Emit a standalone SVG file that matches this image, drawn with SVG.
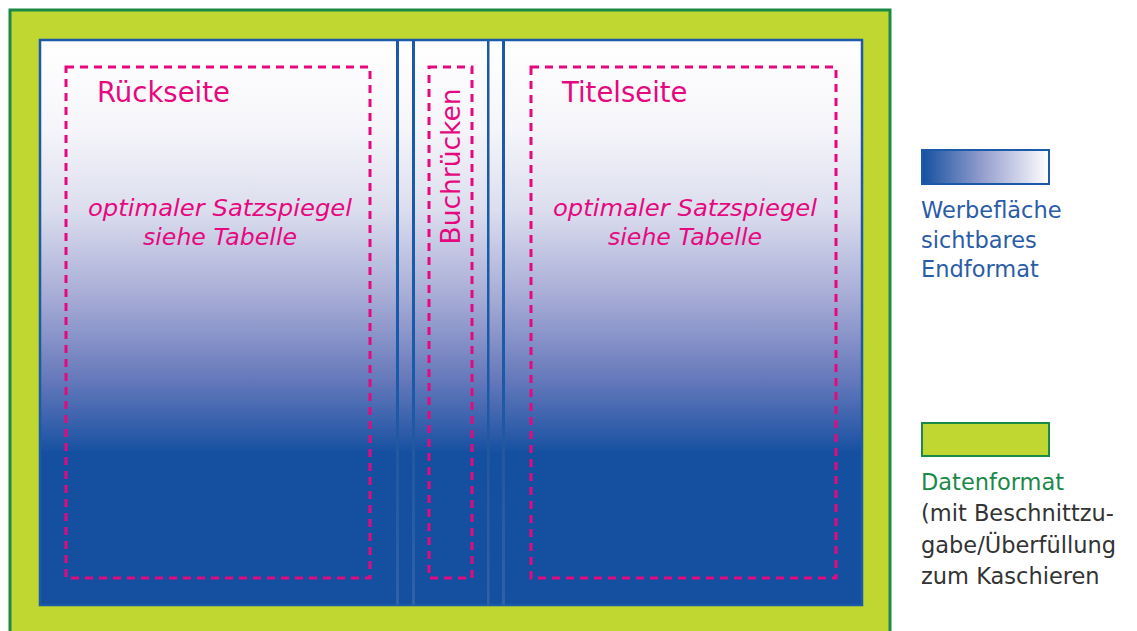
<svg xmlns="http://www.w3.org/2000/svg" width="1137" height="631" viewBox="0 0 1137 631">
<style>
.dash{fill:none;stroke:#e5097f;stroke-width:3;stroke-dasharray:8 6}
.lbl{font-family:"DejaVu Sans","Liberation Sans",sans-serif;fill:#e5097f}
.it{font-family:"DejaVu Sans","Liberation Sans",sans-serif;font-style:italic;font-size:23px;fill:#e5097f;text-anchor:middle}
.leg{font-family:"DejaVu Sans","Liberation Sans",sans-serif;font-size:22.5px}
.spine{fill:url(#spineGrad)}
</style>
<defs>
<linearGradient id="coverGrad" x1="0" y1="0" x2="0" y2="1">
<stop offset="0" stop-color="#ffffff"/>
<stop offset="0.15" stop-color="#f6f6fa"/>
<stop offset="0.3" stop-color="#dcdeee"/>
<stop offset="0.46" stop-color="#a5aad5"/>
<stop offset="0.6" stop-color="#6679bb"/>
<stop offset="0.7" stop-color="#2a5aa8"/>
<stop offset="0.73" stop-color="#1550a0"/>
<stop offset="1" stop-color="#1550a0"/>
</linearGradient>
<linearGradient id="spineGrad" x1="0" y1="0" x2="0" y2="1">
<stop offset="0" stop-color="#1b5aa8"/>
<stop offset="0.6" stop-color="#1b5aa8"/>
<stop offset="0.72" stop-color="#22589f"/>
<stop offset="1" stop-color="#2f62a8"/>
</linearGradient>
<linearGradient id="legGrad" x1="0" y1="0" x2="1" y2="0">
<stop offset="0" stop-color="#1550a0"/>
<stop offset="0.5" stop-color="#9aa2d0"/>
<stop offset="1" stop-color="#ffffff"/>
</linearGradient>
</defs>

<g id="datenformat-area">
<rect x="10" y="10" width="880" height="640" fill="#c0d731" stroke="#1a8a45" stroke-width="3"/>
</g>

<g id="cover">
<rect x="40" y="40" width="822" height="565" fill="url(#coverGrad)" stroke="#1b5aa8" stroke-width="2.5"/>
</g>

<g id="connectors">
<rect class="spine" x="396" y="40" width="3" height="565"/>
<rect class="spine" x="412" y="40" width="3" height="565"/>
<rect class="spine" x="487" y="40" width="2.5" height="565"/>
<rect class="spine" x="502" y="40" width="3" height="565"/>
</g>

<g id="rueckseite">
<rect class="dash" x="66" y="67" width="304" height="511"/>
<text class="lbl" x="97" y="102" font-size="27.5">Rückseite</text>
<text class="it" x="220" y="216" textLength="264" lengthAdjust="spacingAndGlyphs">optimaler Satzspiegel</text>
<text class="it" x="220" y="245" textLength="154" lengthAdjust="spacingAndGlyphs">siehe Tabelle</text>
</g>

<g id="buchruecken">
<rect class="dash" x="429" y="67" width="43" height="511"/>
<text class="lbl" font-size="26.5" text-anchor="middle" transform="translate(460,166.5) rotate(-90)">Buchrücken</text>
</g>

<g id="titelseite">
<rect class="dash" x="531" y="67" width="305" height="511"/>
<text class="lbl" x="562" y="102" font-size="27.5">Titelseite</text>
<text class="it" x="685" y="216" textLength="264" lengthAdjust="spacingAndGlyphs">optimaler Satzspiegel</text>
<text class="it" x="685" y="245" textLength="154" lengthAdjust="spacingAndGlyphs">siehe Tabelle</text>
</g>

<g id="legend-werbeflaeche">
<rect x="922" y="150" width="127" height="34" fill="url(#legGrad)" stroke="#1b5aa8" stroke-width="2"/>
<text class="leg" fill="#2a5ca8" x="921" y="218">Werbefläche</text>
<text class="leg" fill="#2a5ca8" x="921" y="248">sichtbares</text>
<text class="leg" fill="#2a5ca8" x="921" y="277">Endformat</text>
</g>

<g id="legend-datenformat">
<rect x="922" y="423" width="127" height="33" fill="#c0d731" stroke="#1a8a45" stroke-width="2"/>
<text class="leg" fill="#1a8a4a" x="921" y="490">Datenformat</text>
<text class="leg" fill="#333333" x="921" y="521">(mit Beschnittzu-</text>
<text class="leg" fill="#333333" x="921" y="553">gabe/Überfüllung</text>
<text class="leg" fill="#333333" x="921" y="584">zum Kaschieren</text>
</g>
</svg>
